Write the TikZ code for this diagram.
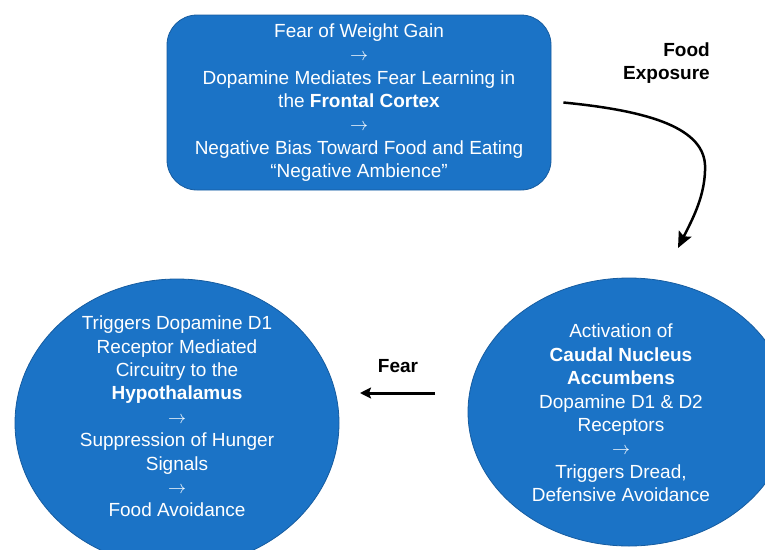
\documentclass[tikz,border=0pt]{standalone}
\usepackage{fontspec}
\usepackage{graphicx}
\setmainfont{Liberation Sans}
\usetikzlibrary{shapes.geometric,arrows.meta}
\definecolor{bfill}{RGB}{27,115,198}
\definecolor{bline}{RGB}{22,92,160}
\newcommand{\myarr}{\resizebox{18pt}{!}{$\rightarrow$}}
\begin{document}
\begin{tikzpicture}[x=1pt,y=-1pt,
  every node/.style={font=\fontsize{19}{23.4}\selectfont},
  blob/.style={fill=bfill,draw=bline,line width=0.8pt,inner sep=0pt},
  wtxt/.style={text=white,align=center,inner sep=0pt},
  ltxt/.style={font=\fontsize{19}{22.5}\selectfont\bfseries,inner sep=0pt},
  conn/.style={draw=black,line width=2.5pt}]
\useasboundingbox (0,0) rectangle (765,549);
\clip (0,0) rectangle (765,549);
% top box
\node[blob, rounded corners=30pt, minimum width=384pt, minimum height=175pt] (top) at (359,102.5) {};
\node[wtxt] (toptext) at (top.center) {Fear of Weight Gain\\
\myarr\\
Dopamine Mediates Fear Learning in\\
the \textbf{Frontal Cortex}\\
\myarr\\
Negative Bias Toward Food and Eating\\
“Negative Ambience”};
% left ellipse
\node[blob, ellipse, minimum width=324pt, minimum height=288pt] (L) at (177,423) {};
\node[wtxt] (Ltext) at (177,416.5) {Triggers Dopamine D1\\
Receptor Mediated\\
Circuitry to the\\
\textbf{Hypothalamus}\\
\myarr\\
Suppression of Hunger\\
Signals\\
\myarr\\
Food Avoidance};
% right ellipse
\node[blob, ellipse, minimum width=322pt, minimum height=268pt] (R) at (629,412) {};
\node[wtxt] (Rtext) at (621,413) {Activation of\\
\textbf{Caudal Nucleus}\\
\textbf{Accumbens}\\
Dopamine D1 \& D2\\
Receptors\\
\myarr\\
Triggers Dread,\\
Defensive Avoidance};
% labels
\node[ltxt, align=right, anchor=east] (food) at (710,63) {Food\\Exposure};
\node[ltxt] (fear) at (398,366) {Fear};
% curved arrow
\coordinate (fstart) at ([xshift=12pt]top.east);
\coordinate (fmid) at (705,165);
\coordinate (fend) at (678,248);
\draw[conn, -{Stealth[length=16pt,width=14pt,inset=3pt]}]
  (fstart) .. controls (640,110) and (703,125) .. (fmid)
  .. controls (706,195) and (692,220) .. (fend);
% fear arrow
\coordinate (fearS) at (435,393);
\coordinate (fearE) at (360,393);
\draw[conn, line width=3pt, -{Stealth[length=11pt,width=11pt,inset=2pt]}] (fearS) -- (fearE);
\end{tikzpicture}
\end{document}
